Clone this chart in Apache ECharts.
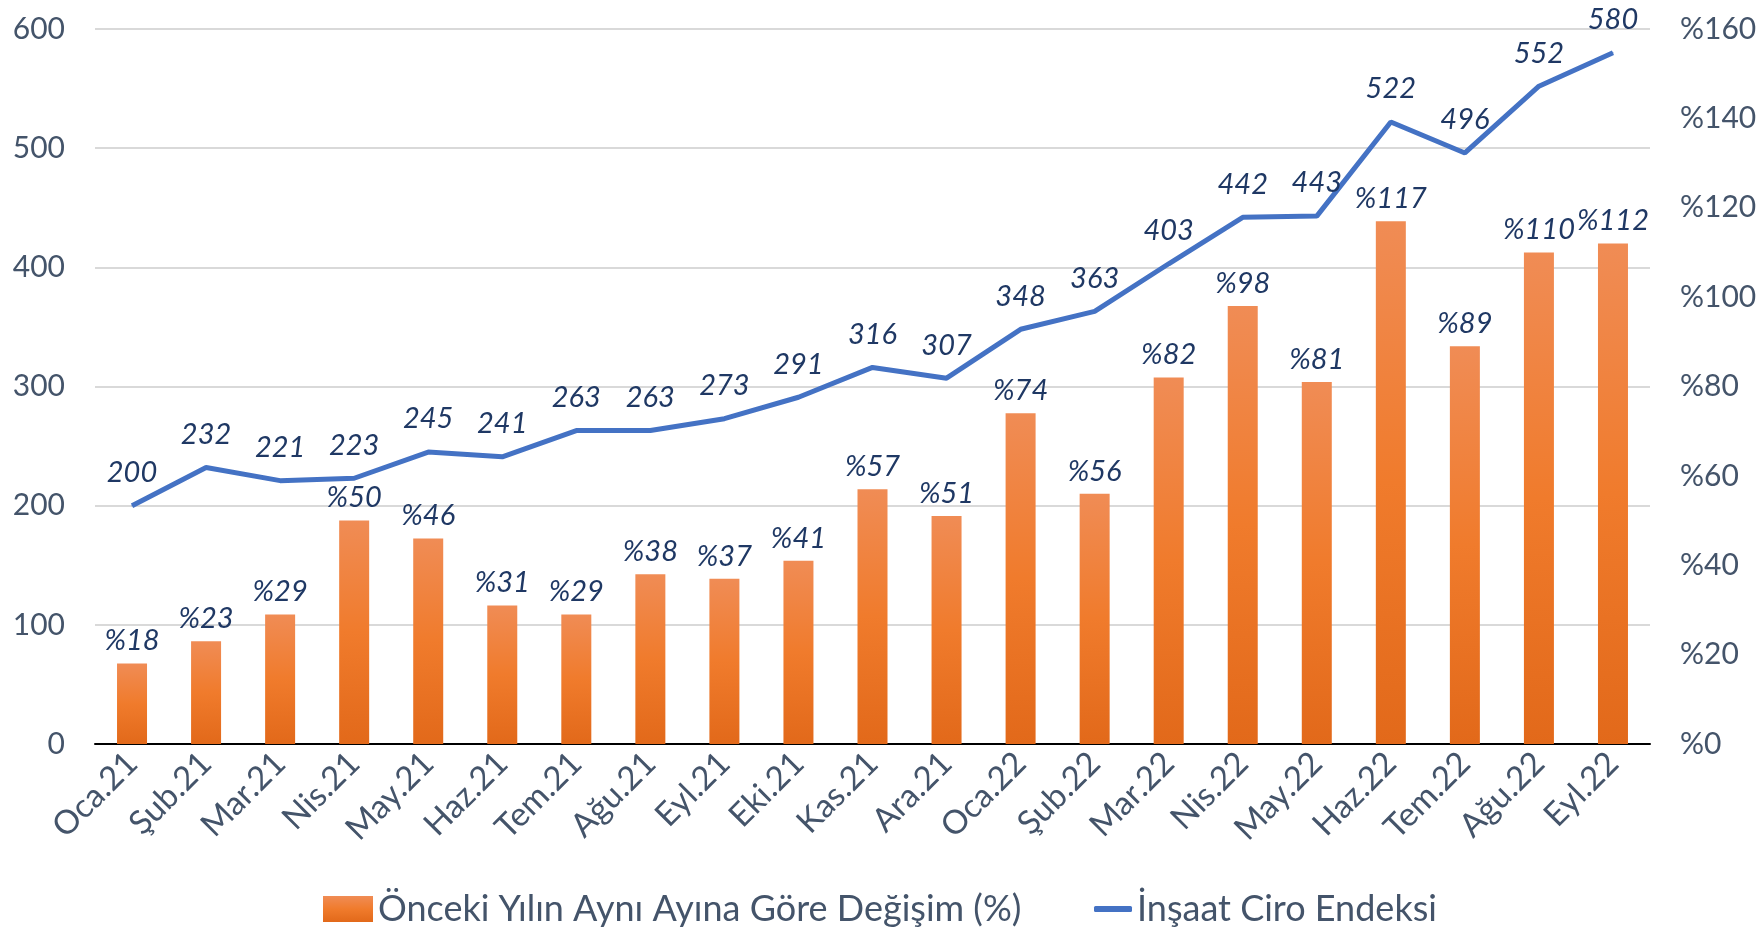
<!DOCTYPE html>
<html>
<head>
<meta charset="utf-8">
<script src="https://cdn.jsdelivr.net/npm/echarts@6/dist/echarts.min.js"></script>
<style>
  html, body { margin: 0; padding: 0; background: #fff; }
  #chart { width: 1764px; height: 938px; }
</style>
</head>
<body>
<div id="chart"></div>
<script>
// aylar
const months = ['Oca.21', 'Şub.21', 'Mar.21', 'Nis.21', 'May.21', 'Haz.21', 'Tem.21', 'Ağu.21', 'Eyl.21', 'Eki.21', 'Kas.21', 'Ara.21',
  'Oca.22', 'Şub.22', 'Mar.22', 'Nis.22', 'May.22', 'Haz.22', 'Tem.22', 'Ağu.22', 'Eyl.22']
// önceki yılın aynı ayına göre değişim (%)
const yoyChange = [18, 23, 29, 50, 46, 31, 29, 38, 37, 41, 57, 51, 74, 56, 82, 98, 81, 117, 89, 110, 112]
// inşaat ciro endeksi
const ciroIndex = [200, 232, 221, 223, 245, 241, 263, 263, 273, 291, 316, 307, 348, 363, 403, 442, 443, 522, 496, 552, 580]

const barName = 'Önceki Yılın Aynı Ayına Göre Değişim (%)'
const lineName = 'İnşaat Ciro Endeksi'

const axisColor = '#44546A'
const labelColor = '#1F3864'
const lineColor = '#4472C4'
const fontFam = 'Lato, "Noto Sans", sans-serif'

const chart = echarts.init(document.getElementById('chart'))

const barGradient = new echarts.graphic.LinearGradient(0, 0, 0, 1, [
  { offset: 0, color: '#F08C55' },
  { offset: 0.5, color: '#F07B2C' },
  { offset: 1, color: '#E2691A' }
])

const legendText = { fontSize: 36, color: axisColor, fontFamily: fontFam }

chart.setOption({
  animation: false,
  textStyle: { fontFamily: fontFam },
  grid: { left: 95, right: 114, top: 29, bottom: 194 },
  legend: [
    {
      left: 318,
      bottom: 6,
      itemWidth: 50,
      itemHeight: 26,
      itemGap: 4,
      textStyle: legendText,
      data: [{ name: barName, icon: 'rect' }]
    },
    {
      left: 1089,
      bottom: 6,
      itemWidth: 38,
      itemHeight: 6,
      textStyle: legendText,
      data: [{ name: lineName, icon: 'roundRect', itemStyle: { color: lineColor } }]
    }
  ],
  xAxis: {
    type: 'category',
    data: months,
    axisTick: { show: false },
    axisLine: { lineStyle: { color: '#000', width: 2 } },
    axisLabel: { rotate: 45, fontSize: 33, color: axisColor, margin: 14, interval: 0 }
  },
  yAxis: [
    {
      type: 'value',
      min: 0,
      max: 600,
      interval: 100,
      axisLine: { show: false },
      axisTick: { show: false },
      splitLine: { lineStyle: { color: '#D9D9D9', width: 2 } },
      axisLabel: { fontSize: 30, color: axisColor, margin: 30 }
    },
    {
      type: 'value',
      min: 0,
      max: 160,
      interval: 20,
      axisLine: { show: false },
      axisTick: { show: false },
      splitLine: { show: false },
      axisLabel: { fontSize: 30, color: axisColor, margin: 30, formatter: v => '%' + v }
    }
  ],
  series: [
    {
      name: barName,
      type: 'bar',
      yAxisIndex: 1,
      barWidth: 30,
      data: yoyChange,
      itemStyle: { color: barGradient },
      label: {
        show: true,
        position: 'top',
        distance: 8,
        fontSize: 29,
        fontStyle: 'italic',
        color: labelColor,
        formatter: p => '%' + p.value
      }
    },
    {
      name: lineName,
      type: 'line',
      yAxisIndex: 0,
      data: ciroIndex,
      symbol: 'circle',
      symbolSize: 1,
      lineStyle: { color: lineColor, width: 5 },
      itemStyle: { color: lineColor },
      label: {
        show: true,
        position: 'top',
        distance: 18,
        fontSize: 29,
        fontStyle: 'italic',
        color: labelColor
      }
    }
  ]
})
</script>
</body>
</html>
